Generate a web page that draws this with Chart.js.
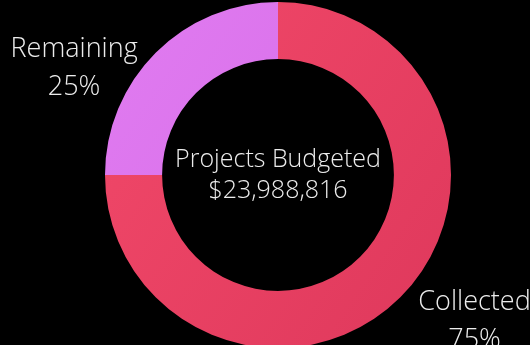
<!DOCTYPE html>
<html>
<head>
<meta charset="utf-8">
<script src="https://cdn.jsdelivr.net/npm/chart.js@4/dist/chart.umd.min.js"></script>
<style>
    html, body { margin: 0; padding: 0; background: #000; overflow: hidden; }
    #wrap { width: 530px; height: 348px; }
</style>
</head>
<body>
<div id="wrap"><canvas id="budgetChart"></canvas></div>
<script>
// Budget split data
const labels = ['Collected', 'Remaining'];
const shares = [75, 25];
const centerLines = ['Projects Budgeted', '$23,988,816'];

// Gradient stops per slice: light (top-left) to dark (bottom-right)
const sliceColors = [
    ['#f44b6b', '#dc365a'],
    ['#e27ef2', '#d266e4']
];

const textColor = '#ececec';
const fontFamily = '"Open Sans", "Segoe UI", sans-serif';

// Diagonal gradient across the chart area
function sliceGradient(context) {
    const chart = context.chart;
    const stops = sliceColors[context.dataIndex];
    const area = chart.chartArea;
    if (!area) return stops[0];
    const g = chart.ctx.createLinearGradient(area.left, area.top, area.right, area.bottom);
    g.addColorStop(0, stops[0]);
    g.addColorStop(1, stops[1]);
    return g;
}

// Writes the budget total in the hole
const centerText = {
    id: 'centerText',
    afterDraw(chart) {
        const arc = chart.getDatasetMeta(0).data[0];
        if (!arc) return;
        const ctx = chart.ctx;
        ctx.save();
        ctx.fillStyle = textColor;
        ctx.font = '300 25px ' + fontFamily;
        ctx.textAlign = 'center';
        ctx.textBaseline = 'alphabetic';
        ctx.fillText(centerLines[0], arc.x, arc.y - 8);
        ctx.fillText(centerLines[1], arc.x, arc.y + 23);
        ctx.restore();
    }
};

// Category name and percentage outside each slice
const outsideLabels = {
    id: 'outsideLabels',
    afterDraw(chart) {
        const ctx = chart.ctx;
        const meta = chart.getDatasetMeta(0);
        ctx.save();
        ctx.fillStyle = textColor;
        ctx.font = '300 27px ' + fontFamily;
        ctx.textAlign = 'center';
        ctx.textBaseline = 'middle';
        meta.data.forEach((arc, i) => {
            const mid = (arc.startAngle + arc.endAngle) / 2;
            const cos = Math.cos(mid), sin = Math.sin(mid);
            const ax = arc.x + arc.outerRadius * cos;
            const ay = arc.y + arc.outerRadius * sin;
            const lines = [labels[i], shares[i] + '%'];
            const w = Math.max(...lines.map(t => ctx.measureText(t).width));
            const cx = ax + Math.sign(cos) * (18 + w / 2);
            const cy = ay + 20 + 6 * sin;
            ctx.fillText(lines[0], cx, cy - 19);
            ctx.fillText(lines[1], cx, cy + 19);
        });
        ctx.restore();
    }
};

new Chart(document.getElementById('budgetChart'), {
    type: 'doughnut',
    data: {
        labels: labels,
        datasets: [{
            data: shares,
            backgroundColor: sliceGradient,
            borderWidth: 0
        }]
    },
    options: {
        responsive: true,
        maintainAspectRatio: false,
        animation: false,
        cutout: '67%',
        layout: { padding: { left: 26, top: 2 } },
        plugins: {
            legend: { display: false },
            tooltip: { enabled: false }
        }
    },
    plugins: [centerText, outsideLabels]
});
</script>
</body>
</html>
